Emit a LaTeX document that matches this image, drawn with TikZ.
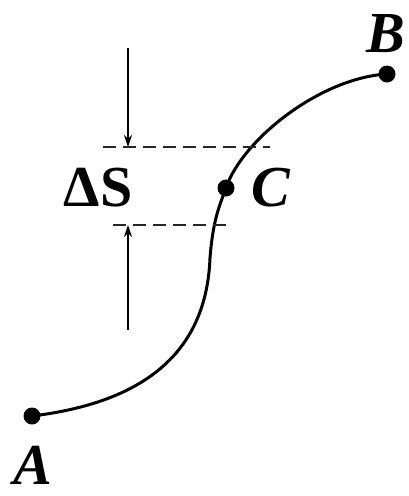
\documentclass[tikz,border=0pt]{standalone}
\usepackage{fontspec}
\setmainfont{Liberation Serif}
\usetikzlibrary{arrows.meta}
\begin{document}
\begin{tikzpicture}[x=1pt,y=-1pt,
  dot/.style={circle,fill=black,inner sep=0pt,minimum size=17pt},
  lbl/.style={inner sep=0pt,font=\fontsize{58}{58}\selectfont\bfseries\itshape},
  dlbl/.style={inner sep=0pt,font=\fontsize{58}{58}\selectfont\bfseries},
  guide/.style={dashed,dash pattern=on 13pt off 7pt,line width=1.3pt,black!85},
  dimarrow/.style={line width=1.4pt,-{Stealth[length=12pt,width=8pt]}},
  path/.style={line width=3pt}]
\useasboundingbox (0,0) rectangle (408,496);
\node[dot] (A) at (32,416) {};
\node[dot] (C) at (226,188) {};
\node[dot] (B) at (387,74) {};
\node[lbl] (lA) at (33,465) {A};
\node[lbl] (lB) at (386,34) {B};
\node[lbl] (lC) at (271,188) {C};
\node[dlbl] (lS) at (98,188) {ΔS};
\coordinate (m) at (210,258);
\draw[path] (A.center) .. controls (165,400) and (207,335) .. (m)
  .. controls (213,220) and (219,207) .. (C.center)
  .. controls (242,140) and (320,78) .. (B.center);
\coordinate (u1) at (103,147);
\coordinate (u2) at (270,147);
\coordinate (l1) at (113,225);
\coordinate (l2) at (232,225);
\draw[guide] (u1) -- (u2);
\draw[guide] (l1) -- (l2);
\coordinate (t1) at (128,48);
\coordinate (t2) at (128,147);
\coordinate (b1) at (128,330);
\coordinate (b2) at (128,225);
\draw[dimarrow] (t1) -- (t2);
\draw[dimarrow] (b1) -- (b2);
\end{tikzpicture}
\end{document}
